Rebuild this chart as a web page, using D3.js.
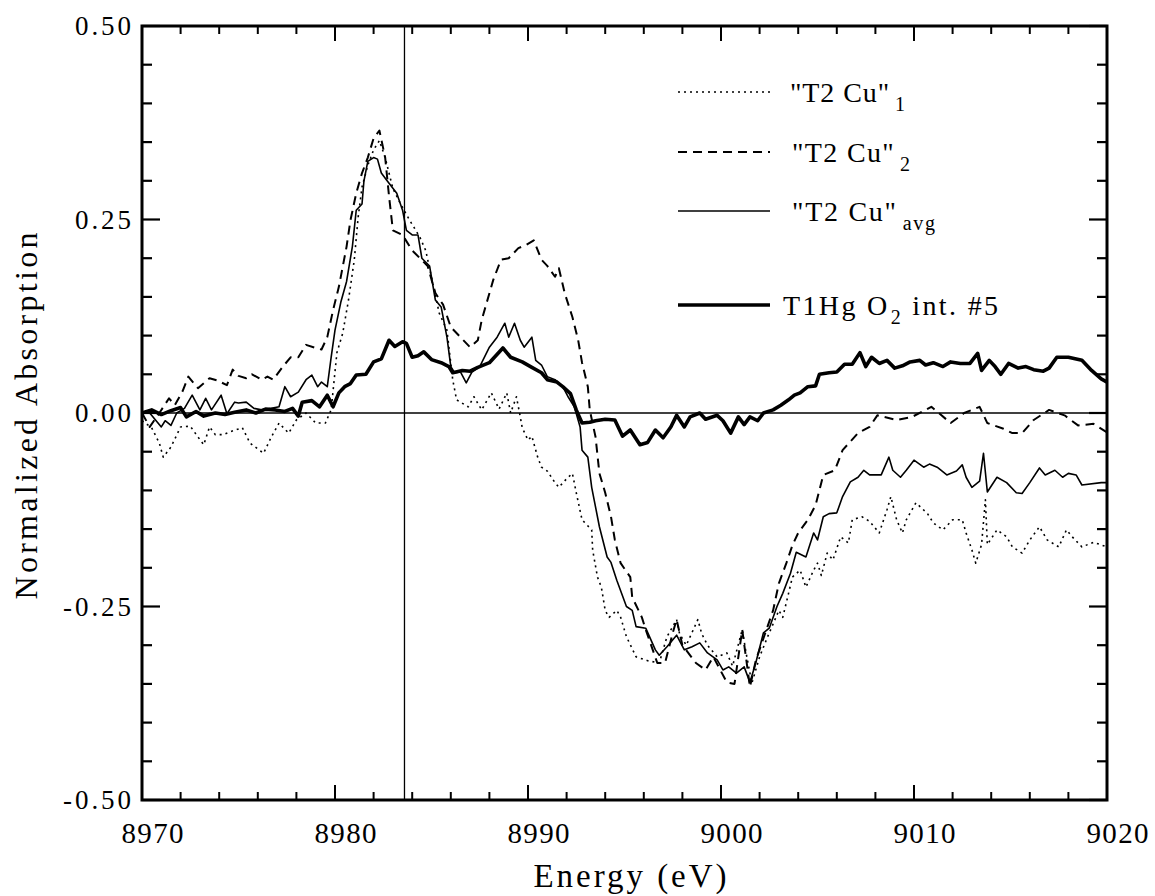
<!DOCTYPE html>
<html>
<head>
<meta charset="utf-8">
<script src="https://cdn.jsdelivr.net/npm/d3@7"></script>
<style>
  body { margin: 0; background: #fff; }
</style>
</head>
<body>
<div id="chart"></div>
<script>
var W = 1155, H = 896,
  margin = { top: 26, right: 48, bottom: 96, left: 142 },
  width = W - margin.left - margin.right,
  height = H - margin.top - margin.bottom,
  font = "Liberation Serif";

var xTicks = [8970, 8980, 8990, 9000, 9010, 9020],
  yTicks = [-0.5, -0.25, 0, 0.25, 0.5],
  edgeLine = 8983.6;

// "T2 Cu"_1 (dotted)
var t2cu1 = [[8970,-0.01],[8970.5,-0.019],[8970.9,-0.039],[8971.1,-0.057],[8971.5,-0.044],[8972,-0.018],[8972.5,-0.017],
  [8972.9,-0.031],[8973.2,-0.041],[8973.5,-0.018],[8973.8,-0.028],[8974.2,-0.028],[8974.6,-0.024],[8975.2,-0.019],
  [8975.6,-0.039],[8976.3,-0.052],[8976.7,-0.031],[8977.1,-0.013],[8977.6,-0.026],[8978,-0.009],[8978.5,0],
  [8979,-0.013],[8979.5,-0.013],[8979.8,0.004],[8980.1,0.078],[8980.4,0.103],[8980.7,0.146],[8981,0.198],
  [8981.2,0.253],[8981.4,0.292],[8981.7,0.32],[8982,0.34],[8982.3,0.352],[8982.6,0.33],[8983,0.29],[8983.4,0.27],
  [8983.8,0.252],[8984.4,0.227],[8984.7,0.21],[8985.4,0.129],[8985.8,0.107],[8986.1,0.043],[8986.3,0.017],
  [8986.9,0.008],[8987.2,0.021],[8987.6,0.004],[8988.1,0.026],[8988.5,0.005],[8988.9,0.026],[8989.1,0],
  [8989.4,0.021],[8989.6,-0.005],[8989.7,-0.019],[8990,-0.035],[8990.2,-0.03],[8990.5,-0.057],[8990.7,-0.07],
  [8991,-0.075],[8991.4,-0.09],[8991.6,-0.096],[8992,-0.085],[8992.3,-0.078],[8992.5,-0.103],[8992.8,-0.138],
  [8993.3,-0.151],[8993.35,-0.177],[8993.6,-0.212],[8993.8,-0.225],[8994,-0.255],[8994.2,-0.264],[8994.6,-0.255],
  [8994.8,-0.264],[8995.1,-0.289],[8995.6,-0.315],[8996.2,-0.32],[8996.8,-0.323],[8997.2,-0.289],[8997.7,-0.267],
  [8997.85,-0.285],[8998.2,-0.3],[8998.8,-0.267],[8999,-0.285],[8999.3,-0.3],[8999.8,-0.315],[9000.3,-0.31],
  [9000.6,-0.327],[9001.1,-0.28],[9001.3,-0.31],[9001.6,-0.349],[9002,-0.315],[9002.4,-0.29],[9003,-0.255],
  [9003.2,-0.264],[9003.5,-0.233],[9003.7,-0.212],[9004.1,-0.203],[9004.4,-0.225],[9004.8,-0.203],[9005,-0.194],
  [9005.2,-0.21],[9005.5,-0.181],[9005.8,-0.19],[9006.2,-0.16],[9006.6,-0.168],[9006.8,-0.138],[9007.3,-0.134],
  [9007.7,-0.14],[9008.2,-0.155],[9008.6,-0.125],[9008.8,-0.108],[9009.1,-0.138],[9009.4,-0.155],[9009.6,-0.138],
  [9010.1,-0.116],[9010.7,-0.13],[9011,-0.142],[9011.5,-0.151],[9012,-0.138],[9012.5,-0.138],[9012.7,-0.155],
  [9013,-0.177],[9013.2,-0.194],[9013.5,-0.17],[9013.7,-0.112],[9013.8,-0.17],[9014.3,-0.151],[9014.8,-0.16],
  [9015.1,-0.173],[9015.6,-0.181],[9016,-0.164],[9016.5,-0.147],[9016.9,-0.164],[9017.5,-0.173],[9017.9,-0.151],
  [9018.2,-0.16],[9018.7,-0.173],[9019.3,-0.167],[9020,-0.173]];

// "T2 Cu"_2 (dashed)
var t2cu2 = [[8970,0],[8970.4,-0.018],[8970.9,0],[8971.4,0.019],[8971.7,0.01],[8972.1,0.028],[8972.4,0.047],
  [8972.9,0.032],[8973.5,0.045],[8973.9,0.042],[8974.4,0.036],[8974.7,0.056],[8975,0.048],[8975.4,0.045],
  [8975.7,0.05],[8976.2,0.043],[8976.5,0.047],[8976.8,0.043],[8977.3,0.06],[8977.7,0.072],[8978.1,0.072],
  [8978.5,0.088],[8979,0.084],[8979.3,0.082],[8979.6,0.098],[8979.9,0.133],[8980.2,0.163],[8980.4,0.189],
  [8980.6,0.215],[8980.8,0.249],[8981.1,0.284],[8981.4,0.31],[8981.7,0.33],[8982,0.355],[8982.3,0.365],
  [8982.6,0.33],[8982.8,0.28],[8983,0.236],[8983.5,0.23],[8984,0.21],[8984.4,0.2],[8984.8,0.19],[8985.2,0.155],
  [8985.6,0.14],[8986,0.111],[8986.5,0.098],[8987,0.085],[8987.4,0.094],[8987.6,0.12],[8988.2,0.172],
  [8988.6,0.198],[8989,0.2],[8989.5,0.213],[8989.9,0.217],[8990.3,0.223],[8990.7,0.198],[8991,0.19],
  [8991.4,0.176],[8991.6,0.187],[8991.9,0.155],[8992.3,0.124],[8992.6,0.094],[8992.8,0.065],[8993.1,0.034],
  [8993.2,0.004],[8993.5,-0.031],[8993.7,-0.078],[8994,-0.103],[8994.3,-0.134],[8994.5,-0.164],[8994.8,-0.194],
  [8995.3,-0.212],[8995.4,-0.238],[8995.9,-0.264],[8996.1,-0.28],[8996.7,-0.323],[8997.1,-0.323],[8997.5,-0.284],
  [8997.7,-0.267],[8998,-0.3],[8998.7,-0.323],[8999.2,-0.332],[8999.6,-0.315],[9000.3,-0.348],[9000.7,-0.35],
  [9001.1,-0.28],[9001.5,-0.354],[9001.8,-0.32],[9002.7,-0.255],[9003,-0.22],[9003.4,-0.193],[9003.7,-0.171],
  [9004,-0.155],[9004.5,-0.138],[9004.9,-0.119],[9005.3,-0.08],[9005.9,-0.074],[9006.3,-0.048],[9007.1,-0.026],
  [9007.7,-0.018],[9008.1,-0.003],[9009.1,-0.009],[9009.9,-0.005],[9010.9,0.008],[9011.9,-0.013],[9012.6,0],
  [9013.4,0.008],[9013.8,-0.013],[9014.6,-0.02],[9015.1,-0.026],[9015.6,-0.026],[9016.2,-0.009],[9017,0.004],
  [9017.8,-0.003],[9018.5,-0.016],[9019.3,-0.014],[9020,-0.025]];

// "T2 Cu"_avg (thin solid)
var t2cuAvg = [[8970,0],[8970.4,0],[8971,-0.018],[8971.2,-0.01],[8971.5,-0.016],[8971.8,0],[8972.2,0.006],
  [8972.6,0.023],[8973,0.004],[8973.3,0.019],[8973.6,0.004],[8974.1,0.023],[8974.4,-0.001],[8974.8,0.014],
  [8975,0.013],[8975.4,0.014],[8975.8,0.006],[8976.2,0.004],[8976.7,0.006],[8977.1,0.008],[8977.4,0.034],
  [8977.7,0.021],[8978.1,0.027],[8978.5,0.043],[8978.8,0.049],[8979.1,0.034],[8979.3,0.04],[8979.6,0.034],
  [8979.8,0.072],[8980,0.107],[8980.3,0.143],[8980.6,0.17],[8980.9,0.215],[8981.1,0.262],[8981.4,0.27],
  [8981.5,0.3],[8981.7,0.325],[8982,0.33],[8982.2,0.328],[8982.4,0.31],[8982.7,0.3],[8983.2,0.284],
  [8983.5,0.262],[8983.7,0.236],[8984,0.23],[8984.3,0.23],[8984.5,0.2],[8984.9,0.19],[8985.2,0.146],
  [8985.5,0.137],[8985.8,0.098],[8986,0.06],[8986.2,0.052],[8986.5,0.053],[8986.8,0.039],[8987.1,0.053],
  [8987.5,0.06],[8988,0.085],[8988.4,0.098],[8988.8,0.116],[8989,0.098],[8989.3,0.116],[8989.6,0.094],
  [8989.8,0.085],[8990.2,0.098],[8990.4,0.068],[8990.7,0.062],[8991,0.047],[8991.4,0.043],[8991.8,0.034],
  [8992.1,0.02],[8992.4,0.008],[8992.7,-0.018],[8992.8,-0.048],[8993.1,-0.057],[8993.3,-0.096],[8993.7,-0.147],
  [8994.1,-0.186],[8994.3,-0.193],[8994.6,-0.216],[8995.1,-0.25],[8995.4,-0.255],[8995.6,-0.276],[8996.1,-0.278],
  [8996.6,-0.306],[8996.8,-0.313],[8997.2,-0.302],[8997.7,-0.287],[8998.1,-0.306],[8998.5,-0.302],[8998.9,-0.297],
  [8999.3,-0.31],[8999.8,-0.319],[9000.1,-0.332],[9000.4,-0.328],[9000.8,-0.336],[9001.2,-0.328],[9001.5,-0.348],
  [9001.8,-0.323],[9002.2,-0.284],[9002.5,-0.278],[9002.9,-0.25],[9003.2,-0.233],[9003.6,-0.207],[9003.9,-0.18],
  [9004.4,-0.186],[9004.8,-0.155],[9005,-0.164],[9005.3,-0.134],[9005.6,-0.13],[9006,-0.129],[9006.3,-0.108],
  [9006.7,-0.089],[9007.1,-0.083],[9007.4,-0.074],[9007.7,-0.08],[9008.3,-0.08],[9008.7,-0.057],[9008.9,-0.074],
  [9009.3,-0.083],[9009.6,-0.074],[9010,-0.061],[9010.5,-0.07],[9010.8,-0.066],[9011.2,-0.07],[9011.7,-0.08],
  [9012.2,-0.075],[9012.5,-0.067],[9012.7,-0.083],[9013,-0.096],[9013.4,-0.088],[9013.6,-0.052],[9013.8,-0.102],
  [9014.3,-0.083],[9014.8,-0.09],[9015.3,-0.103],[9015.6,-0.104],[9016,-0.09],[9016.5,-0.071],[9016.8,-0.08],
  [9017.3,-0.074],[9017.7,-0.083],[9018,-0.078],[9018.4,-0.08],[9018.7,-0.093],[9019.7,-0.09],[9020,-0.09]];

// T1Hg O2 int. #5 (thick solid)
var t1hg = [[8970,0],[8970.5,0.004],[8971,-0.002],[8971.5,0.003],[8972,0.007],[8972.3,-0.005],[8972.8,0.002],
  [8973.2,-0.004],[8973.8,0],[8974.3,-0.002],[8974.8,0.001],[8975.4,0.004],[8975.9,0],[8976.4,0.005],
  [8976.9,0.004],[8977.4,0.002],[8977.8,0.006],[8978.1,-0.004],[8978.3,0.014],[8978.8,0.016],[8979.2,0.008],
  [8979.6,0.023],[8979.9,0.008],[8980.2,0.026],[8980.5,0.034],[8980.8,0.038],[8981.1,0.049],[8981.6,0.05],
  [8982,0.066],[8982.4,0.07],[8982.8,0.094],[8983.1,0.086],[8983.5,0.092],[8983.7,0.09],[8984,0.072],
  [8984.3,0.074],[8984.6,0.079],[8985,0.069],[8985.5,0.065],[8985.9,0.06],[8986.1,0.052],[8986.6,0.055],
  [8987,0.054],[8987.4,0.059],[8988,0.065],[8988.7,0.084],[8989.1,0.072],[8989.7,0.066],[8990.2,0.059],
  [8990.7,0.052],[8991,0.043],[8991.5,0.04],[8991.8,0.034],[8992.2,0.025],[8992.5,0.004],[8992.8,-0.013],
  [8993.2,-0.012],[8993.5,-0.01],[8994,-0.008],[8994.5,-0.009],[8994.9,-0.03],[8995.3,-0.022],[8995.8,-0.041],
  [8996.2,-0.038],[8996.6,-0.022],[8997,-0.032],[8997.4,-0.018],[8997.7,-0.003],[8998.1,-0.018],[8998.4,-0.005],
  [8998.9,0],[8999.2,-0.008],[8999.8,-0.003],[9000.1,-0.01],[9000.5,-0.026],[9000.9,-0.005],[9001.2,-0.015],
  [9001.5,-0.005],[9001.9,-0.01],[9002.2,0],[9002.7,0.004],[9003.1,0.01],[9003.5,0.017],[9003.8,0.023],
  [9004.1,0.026],[9004.5,0.034],[9004.9,0.035],[9005.1,0.05],[9005.6,0.052],[9006,0.053],[9006.4,0.063],
  [9006.8,0.063],[9007.2,0.078],[9007.5,0.06],[9007.8,0.072],[9008.2,0.064],[9008.6,0.068],[9009,0.058],
  [9009.4,0.061],[9009.8,0.066],[9010.3,0.068],[9010.6,0.062],[9011,0.065],[9011.5,0.06],[9011.9,0.066],
  [9012.4,0.064],[9012.9,0.064],[9013.3,0.077],[9013.5,0.055],[9013.9,0.068],[9014.2,0.06],[9014.5,0.05],
  [9014.9,0.064],[9015.4,0.058],[9015.8,0.06],[9016.2,0.056],[9016.7,0.054],[9017,0.058],[9017.4,0.072],
  [9018,0.072],[9018.7,0.068],[9019.2,0.055],[9019.7,0.044],[9020,0.04]];

var series = [
  { data: t2cu1, width: 1.6, dash: "2,4", name: "\"T2 Cu\"", sub: "1", tail: "" },
  { data: t2cu2, width: 2, dash: "9,6", name: "\"T2 Cu\"", sub: "2", tail: "" },
  { data: t2cuAvg, width: 1.6, dash: null, name: "\"T2 Cu\"", sub: "avg", tail: "" },
  { data: t1hg, width: 3.6, dash: null, name: "T1Hg O", sub: "2", tail: " int. #5" }
];

var svg = d3.select("#chart").append("svg")
  .attr("width", W)
  .attr("height", H)
  .attr("font-family", font);

var g = svg.append("g")
  .attr("transform", "translate(" + margin.left + "," + margin.top + ")");

var x = d3.scaleLinear().domain([8970, 9020]).range([0, width]);
var y = d3.scaleLinear().domain([-0.5, 0.5]).range([height, 0]);

// minor ticks
var xMinor = d3.range(8970, 9021, 2).filter(function(d){ return d % 10 != 0; });
var yMinor = d3.range(-50, 51, 5).filter(function(d){ return d % 25 != 0; }).map(function(d){ return d/100; });

function tickLines(cls, vals, horiz, len) {
  // ticks drawn inward on both opposite sides
  if (horiz) {
    g.selectAll("." + cls + "b").data(vals).enter().append("line")
      .attr("x1", x).attr("x2", x).attr("y1", height).attr("y2", height - len)
      .attr("stroke", "#000").attr("stroke-width", 2);
    g.selectAll("." + cls + "t").data(vals).enter().append("line")
      .attr("x1", x).attr("x2", x).attr("y1", 0).attr("y2", len)
      .attr("stroke", "#000").attr("stroke-width", 2);
  } else {
    g.selectAll("." + cls + "l").data(vals).enter().append("line")
      .attr("y1", y).attr("y2", y).attr("x1", 0).attr("x2", len)
      .attr("stroke", "#000").attr("stroke-width", 2.2);
    g.selectAll("." + cls + "r").data(vals).enter().append("line")
      .attr("y1", y).attr("y2", y).attr("x1", width).attr("x2", width - len)
      .attr("stroke", "#000").attr("stroke-width", 2.2);
  }
}
tickLines("xmaj", xTicks, true, 15);
tickLines("xmin", xMinor, true, 8);
tickLines("ymaj", yTicks, false, 18);
tickLines("ymin", yMinor, false, 10);

// tick labels via axes
var xAxis = d3.axisBottom(x).tickValues(xTicks).tickSize(0).tickPadding(22)
  .tickFormat(d3.format("d"));
var gx = g.append("g").attr("transform", "translate(0," + height + ")").call(xAxis);
gx.attr("font-family", font);
gx.select(".domain").remove();
gx.selectAll("text").attr("font-size", 29)
  .attr("textLength", 62).attr("lengthAdjust", "spacing")
  .attr("dx", 10).attr("fill", "#000");

var yAxis = d3.axisLeft(y).tickValues(yTicks).tickSize(0).tickPadding(11)
  .tickFormat(function(d){ return d.toFixed(2); });
var gy = g.append("g").call(yAxis);
gy.attr("font-family", font);
gy.select(".domain").remove();
gy.selectAll("text").attr("font-size", 27)
  .attr("textLength", function(d){ return d < 0 ? 68 : 56; }).attr("lengthAdjust", "spacing")
  .attr("fill", "#000");

// zero line and edge marker
g.append("line")
  .attr("x1", 0).attr("x2", width).attr("y1", y(0)).attr("y2", y(0))
  .attr("stroke", "#000").attr("stroke-width", 1.6);
g.append("line")
  .attr("x1", x(edgeLine)).attr("x2", x(edgeLine)).attr("y1", 0).attr("y2", height)
  .attr("stroke", "#000").attr("stroke-width", 1.3);

// curves
var line = d3.line()
  .x(function(d){ return x(d[0]); })
  .y(function(d){ return y(d[1]); });

g.selectAll(".curve").data(series).enter().append("path")
  .attr("class", "curve")
  .attr("d", function(d){ return line(d.data); })
  .attr("fill", "none")
  .attr("stroke", "#000")
  .attr("stroke-width", function(d){ return d.width; })
  .attr("stroke-dasharray", function(d){ return d.dash; })
  .attr("stroke-linejoin", "round");

// frame
g.append("rect")
  .attr("width", width).attr("height", height)
  .attr("fill", "none").attr("stroke", "#000").attr("stroke-width", 3);

// legend
var legY = [66, 126, 185, 279],
  legX = [112, 114, 114, 105],
  legLen = [115, 118, 143, 215];
var leg = g.selectAll(".leg").data(series).enter().append("g")
  .attr("class", "leg")
  .attr("transform", function(d, i){ return "translate(" + 536 + "," + legY[i] + ")"; });

leg.append("line")
  .attr("x1", 0).attr("x2", 92).attr("y1", 0).attr("y2", 0)
  .attr("stroke", "#000")
  .attr("stroke-width", function(d){ return d.width; })
  .attr("stroke-dasharray", function(d){ return d.dash; });

var lt = leg.append("text")
  .attr("x", function(d, i){ return legX[i]; })
  .attr("y", 10)
  .attr("font-size", 28)
  .attr("textLength", function(d, i){ return legLen[i]; })
  .attr("lengthAdjust", "spacing");
lt.append("tspan").text(function(d){ return d.name; });
lt.append("tspan")
  .attr("dx", function(d, i){ return i == 3 ? 1 : 5; })
  .attr("dy", 9)
  .attr("font-size", 20)
  .text(function(d){ return d.sub; });
lt.append("tspan")
  .attr("dy", -9)
  .text(function(d){ return d.tail; });

// axis titles
svg.append("text")
  .attr("x", 630).attr("y", 887)
  .attr("text-anchor", "middle")
  .attr("font-size", 33)
  .attr("textLength", 193).attr("lengthAdjust", "spacing")
  .text("Energy (eV)");

svg.append("text")
  .attr("transform", "translate(37,416) rotate(-90)")
  .attr("text-anchor", "middle")
  .attr("font-size", 32)
  .attr("textLength", 367).attr("lengthAdjust", "spacing")
  .text("Normalized Absorption");
</script>
</body>
</html>
